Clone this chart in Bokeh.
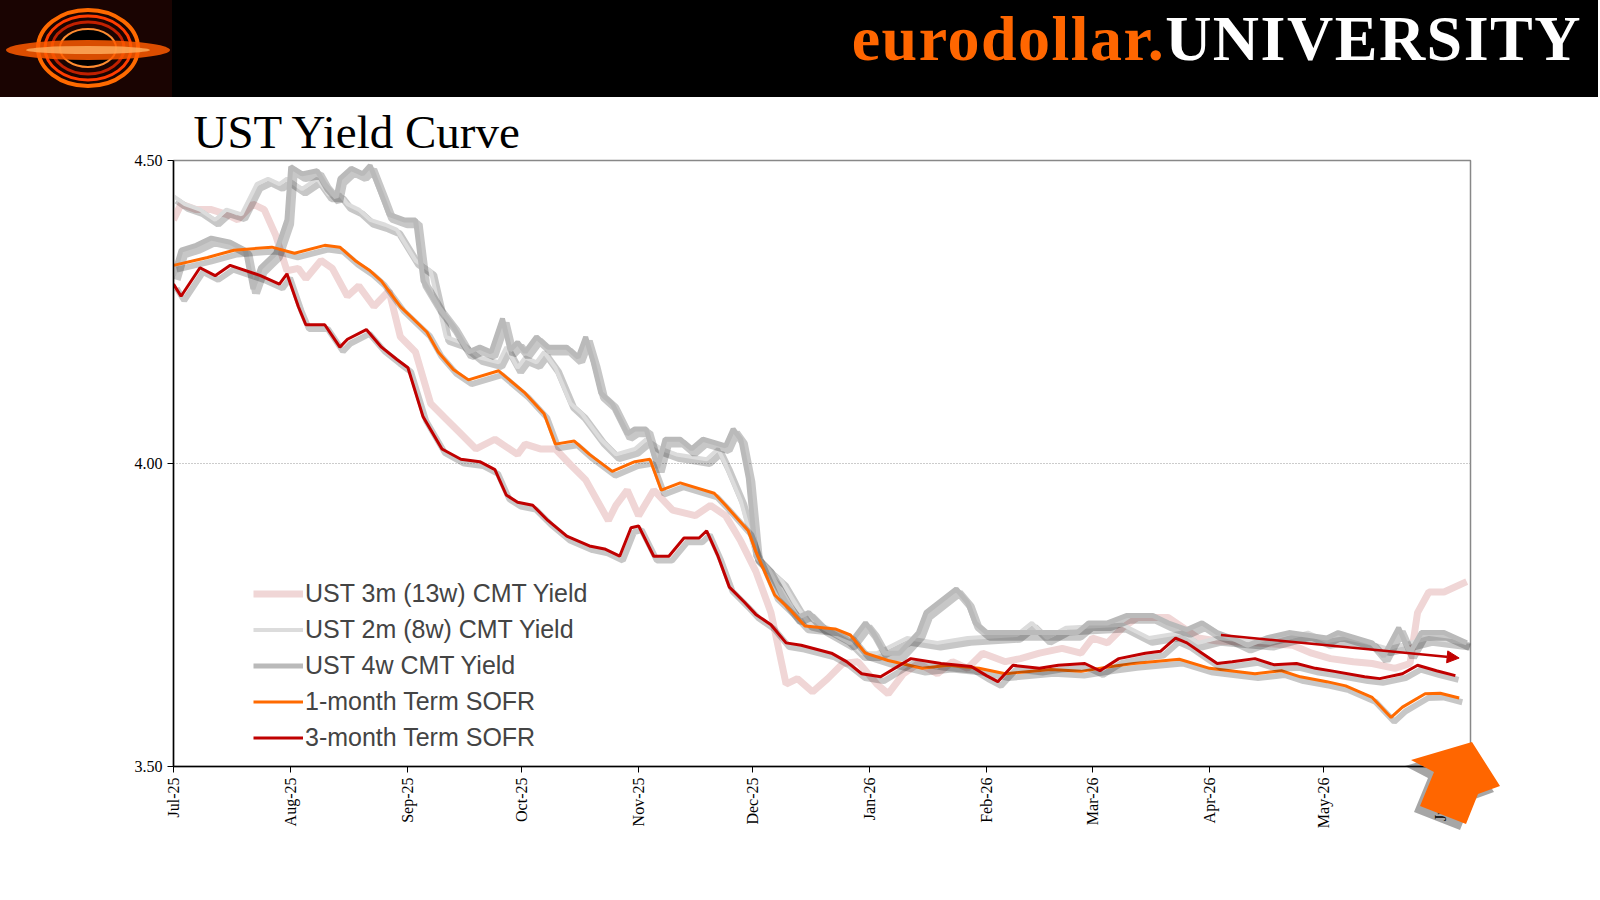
import pandas as pd
from bokeh.plotting import figure
from bokeh.layouts import column
from bokeh.models import (Range1d, FixedTicker, DatetimeTickFormatter, NumeralTickFormatter,
                          Legend, LegendItem, Arrow, NormalHead, ColumnDataSource, Div)
from bokeh.embed import file_html
from bokeh.resources import INLINE

# ---------------- data ----------------
sofr1m_dates = ["2025-07-01","2025-07-10","2025-07-17","2025-07-27","2025-08-02","2025-08-10","2025-08-14","2025-08-18",
    "2025-08-22","2025-08-25","2025-08-30","2025-09-06","2025-09-09","2025-09-13","2025-09-17","2025-09-25","2025-10-02",
    "2025-10-07","2025-10-10","2025-10-15","2025-10-19","2025-10-25","2025-10-31","2025-11-04","2025-11-07","2025-11-12",
    "2025-11-21","2025-11-24","2025-11-30","2025-12-02","2025-12-07","2025-12-11","2025-12-15","2025-12-23","2025-12-27",
    "2025-12-31","2026-01-06","2026-01-15","2026-01-22","2026-01-30","2026-02-06","2026-02-18","2026-02-26","2026-03-06",
    "2026-03-12","2026-03-24","2026-04-01","2026-04-13","2026-04-20","2026-04-25","2026-05-02","2026-05-07","2026-05-14",
    "2026-05-19","2026-05-22","2026-05-28","2026-06-01","2026-06-06"]
sofr1m = [4.327,4.340,4.352,4.357,4.347,4.360,4.357,4.335,4.318,4.301,4.259,4.217,4.184,4.155,4.138,4.153,4.116,
    4.082,4.032,4.037,4.015,3.987,4.003,4.007,3.956,3.968,3.951,3.931,3.889,3.855,3.783,3.759,3.732,3.727,3.717,
    3.687,3.675,3.662,3.667,3.662,3.653,3.660,3.657,3.665,3.670,3.677,3.662,3.653,3.658,3.648,3.640,3.633,3.614,
    3.581,3.598,3.620,3.621,3.613]

sofr3m_dates = ["2025-07-01","2025-07-03","2025-07-08","2025-07-12","2025-07-16","2025-07-24","2025-07-29","2025-07-31",
    "2025-08-03","2025-08-05","2025-08-10","2025-08-14","2025-08-16","2025-08-21","2025-08-25","2025-08-29","2025-09-01",
    "2025-09-05","2025-09-10","2025-09-15","2025-09-20","2025-09-24","2025-09-27","2025-09-30","2025-10-04","2025-10-08",
    "2025-10-13","2025-10-19","2025-10-23","2025-10-27","2025-10-30","2025-11-01","2025-11-05","2025-11-09","2025-11-13",
    "2025-11-17","2025-11-19","2025-11-22","2025-11-25","2025-11-29","2025-12-02","2025-12-06","2025-12-10","2025-12-14",
    "2025-12-22","2025-12-26","2025-12-30","2026-01-04","2026-01-12","2026-01-20","2026-01-28","2026-02-01","2026-02-04",
    "2026-02-08","2026-02-15","2026-02-20","2026-02-27","2026-03-03","2026-03-08","2026-03-15","2026-03-19","2026-03-23",
    "2026-03-26","2026-03-30","2026-04-03","2026-04-07","2026-04-13","2026-04-18","2026-04-24","2026-04-29","2026-05-04",
    "2026-05-12","2026-05-16","2026-05-22","2026-05-26","2026-05-31","2026-06-05"]
sofr3m = [4.296,4.276,4.323,4.310,4.327,4.310,4.296,4.313,4.259,4.229,4.229,4.192,4.205,4.221,4.192,4.172,4.158,
    4.077,4.024,4.007,4.003,3.990,3.948,3.936,3.931,3.906,3.880,3.864,3.859,3.847,3.894,3.897,3.847,3.847,3.877,
    3.877,3.889,3.847,3.796,3.771,3.751,3.734,3.704,3.700,3.687,3.673,3.653,3.648,3.678,3.670,3.665,3.650,3.640,
    3.667,3.662,3.667,3.670,3.658,3.678,3.687,3.690,3.712,3.704,3.687,3.670,3.673,3.678,3.668,3.670,3.662,3.657,
    3.648,3.645,3.653,3.667,3.658,3.650]

ust4w_dates = ["2025-07-01","2025-07-03","2025-07-07","2025-07-11","2025-07-16","2025-07-20","2025-07-22","2025-07-24",
    "2025-07-28","2025-07-31","2025-08-01","2025-08-04","2025-08-08","2025-08-10","2025-08-13","2025-08-14","2025-08-17",
    "2025-08-20","2025-08-22","2025-08-25","2025-08-27","2025-08-31","2025-09-03","2025-09-05","2025-09-09","2025-09-13",
    "2025-09-17","2025-09-20","2025-09-23","2025-09-26","2025-09-28","2025-09-30","2025-10-02","2025-10-05","2025-10-08",
    "2025-10-13","2025-10-16","2025-10-18","2025-10-20","2025-10-22","2025-10-25","2025-10-29","2025-10-31","2025-11-03",
    "2025-11-06","2025-11-08","2025-11-12","2025-11-15","2025-11-18","2025-11-24","2025-11-26","2025-11-28","2025-11-30",
    "2025-12-02","2025-12-05","2025-12-10","2025-12-13","2025-12-16","2025-12-20","2025-12-27","2025-12-31","2026-01-02",
    "2026-01-05","2026-01-09","2026-01-14","2026-01-16","2026-01-24","2026-01-27","2026-01-29","2026-02-01","2026-02-25",
    "2026-02-28","2026-03-05","2026-03-10","2026-03-17","2026-03-21","2026-03-26","2026-03-30","2026-04-03","2026-04-07",
    "2026-04-11","2026-04-16","2026-04-22","2026-05-02","2026-05-05","2026-05-14","2026-05-17","2026-05-21","2026-05-24",
    "2026-05-27","2026-06-02","2026-06-08"]
ust4w = [4.310,4.352,4.360,4.372,4.365,4.352,4.288,4.323,4.347,4.402,4.490,4.478,4.483,4.461,4.439,4.470,4.487,
    4.478,4.492,4.444,4.411,4.402,4.402,4.301,4.259,4.226,4.184,4.192,4.184,4.239,4.187,4.200,4.184,4.209,4.192,
    4.192,4.175,4.209,4.167,4.116,4.099,4.049,4.057,4.057,3.993,4.040,4.040,4.024,4.040,4.029,4.057,4.040,3.976,
    3.847,3.828,3.771,3.746,3.754,3.729,3.704,3.737,3.721,3.687,3.687,3.721,3.754,3.793,3.771,3.737,3.721,3.721,
    3.737,3.737,3.749,3.749,3.737,3.726,3.737,3.721,3.712,3.700,3.712,3.721,3.712,3.721,3.704,3.682,3.729,3.687,
    3.721,3.721,3.704]

ust2m_dates = ["2025-07-01","2025-07-04","2025-07-08","2025-07-12","2025-07-15","2025-07-19","2025-07-23","2025-07-26",
    "2025-07-29","2025-07-31","2025-08-04","2025-08-08","2025-08-11","2025-08-14","2025-08-16","2025-08-19","2025-08-22",
    "2025-08-26","2025-08-29","2025-09-03","2025-09-07","2025-09-11","2025-09-15","2025-09-20","2025-09-25","2025-09-27",
    "2025-09-30","2025-10-02","2025-10-05","2025-10-07","2025-10-10","2025-10-14","2025-10-17","2025-10-22","2025-10-26",
    "2025-10-31","2025-11-03","2025-11-07","2025-11-11","2025-11-19","2025-11-22","2025-11-24","2025-11-28","2025-12-02",
    "2025-12-06","2025-12-09","2025-12-13","2025-12-16","2025-12-21","2025-12-26","2025-12-30","2026-01-03","2026-01-11",
    "2026-01-19","2026-01-27","2026-02-09","2026-02-13","2026-02-17","2026-02-22","2026-03-09","2026-03-16","2026-03-25",
    "2026-03-29","2026-04-03","2026-04-17","2026-04-27","2026-05-02","2026-05-07","2026-05-13","2026-05-18","2026-05-24",
    "2026-05-29","2026-06-08"]
ust2m = [4.441,4.428,4.419,4.402,4.419,4.411,4.461,4.470,4.461,4.470,4.453,4.470,4.444,4.444,4.428,4.419,4.402,
    4.394,4.386,4.335,4.318,4.209,4.200,4.175,4.167,4.192,4.158,4.175,4.167,4.184,4.158,4.099,4.082,4.040,4.015,
    4.024,4.040,4.024,4.015,4.007,4.024,3.998,3.939,3.847,3.822,3.805,3.763,3.737,3.729,3.712,3.687,3.687,3.712,
    3.704,3.712,3.717,3.737,3.712,3.729,3.734,3.712,3.721,3.704,3.712,3.704,3.721,3.707,3.712,3.704,3.695,3.704,
    3.712,3.704]

ust3m_dates = ["2025-07-01","2025-07-03","2025-07-07","2025-07-11","2025-07-15","2025-07-18","2025-07-22","2025-07-25",
    "2025-07-28","2025-07-31","2025-08-03","2025-08-05","2025-08-09","2025-08-12","2025-08-16","2025-08-19","2025-08-23",
    "2025-08-27","2025-08-30","2025-09-03","2025-09-07","2025-09-11","2025-09-15","2025-09-19","2025-09-24","2025-09-30",
    "2025-10-02","2025-10-06","2025-10-10","2025-10-14","2025-10-18","2025-10-24","2025-10-26","2025-10-29","2025-11-01",
    "2025-11-05","2025-11-10","2025-11-16","2025-11-20","2025-11-24","2025-11-28","2025-12-02","2025-12-06","2025-12-10",
    "2025-12-13","2025-12-17","2025-12-21","2025-12-25","2025-12-29","2026-01-03","2026-01-06","2026-01-10","2026-01-14",
    "2026-01-19","2026-01-23","2026-01-27","2026-01-31","2026-02-06","2026-02-10","2026-02-15","2026-02-21","2026-02-26",
    "2026-03-01","2026-03-05","2026-03-09","2026-03-13","2026-03-21","2026-03-25","2026-03-29","2026-04-03","2026-04-13",
    "2026-04-23","2026-04-28","2026-05-03","2026-05-09","2026-05-14","2026-05-20","2026-05-24","2026-05-26","2026-05-29",
    "2026-06-02","2026-06-08"]
ust3m = [4.402,4.428,4.419,4.419,4.411,4.402,4.428,4.419,4.377,4.318,4.322,4.305,4.335,4.322,4.276,4.293,4.259,
    4.285,4.209,4.184,4.099,4.074,4.049,4.024,4.040,4.015,4.032,4.024,4.024,3.998,3.973,3.906,3.931,3.956,3.914,
    3.956,3.923,3.914,3.931,3.914,3.872,3.822,3.754,3.636,3.645,3.623,3.645,3.670,3.673,3.636,3.620,3.653,3.670,
    3.653,3.673,3.662,3.687,3.673,3.678,3.687,3.695,3.687,3.712,3.704,3.729,3.746,3.746,3.729,3.712,3.707,3.704,
    3.700,3.687,3.678,3.673,3.670,3.662,3.670,3.754,3.788,3.788,3.805]

month_ticks = ["2025-07-01","2025-08-01","2025-09-01","2025-10-01","2025-11-01","2025-12-01","2026-01-01",
               "2026-02-01","2026-03-01","2026-04-01","2026-05-01","2026-06-01"]
y_ticks = [3.50, 4.00, 4.50]
x_start, x_end = "2025-07-01", "2026-06-09"
trend_start, trend_end = ("2026-04-04", 3.717), ("2026-06-06", 3.679)

def ms(d):
    return pd.Timestamp(d).value / 1e6

W = 1598
SERIF = "Liberation Serif"

# ---------------- header (HTML) ----------------
logo_svg = (
    '<svg width="172" height="97" style="position:absolute;left:0;top:0" xmlns="http://www.w3.org/2000/svg">'
    '<rect width="172" height="97" fill="#1a0402"/>'
    '<ellipse cx="88" cy="48" rx="50" ry="38" fill="none" stroke="#ff6a00" stroke-width="4"/>'
    '<ellipse cx="88" cy="48" rx="43" ry="32" fill="none" stroke="#ff3d00" stroke-width="3"/>'
    '<ellipse cx="88" cy="48" rx="36" ry="26" fill="none" stroke="#c02000" stroke-width="3"/>'
    '<ellipse cx="88" cy="48" rx="28" ry="19" fill="black" stroke="#ff8c30" stroke-width="2"/>'
    '<ellipse cx="88" cy="50" rx="82" ry="10" fill="#ff5a00" fill-opacity="0.85"/>'
    '<ellipse cx="88" cy="50" rx="62" ry="4" fill="#ffb060" fill-opacity="0.8"/>'
    '</svg>')
header_html = (
    '<div style="width:%dpx;height:97px;background:black;position:relative;overflow:hidden">' % W
    + logo_svg +
    '<div style="position:absolute;right:16px;top:4px;font-family:\'Liberation Serif\';font-weight:bold;'
    'font-size:64px;line-height:70px;letter-spacing:1.5px;white-space:nowrap">'
    '<span style="color:#ff6600">eurodollar.</span><span style="color:white">UNIVERSITY</span></div></div>')
hdr = Div(text=header_html, width=W, height=97, margin=0)

# ---------------- main chart ----------------
p = figure(width=W, height=795, x_axis_type="datetime",
           x_range=Range1d(ms(x_start), ms(x_end)), y_range=Range1d(3.5, 4.5),
           output_backend="svg", toolbar_location=None,
           min_border_left=173, min_border_right=128, min_border_top=63, min_border_bottom=126,
           title="UST Yield Curve")
p.margin = 0
p.title.text_font = SERIF
p.title.text_font_size = "47px"
p.title.text_font_style = "normal"
p.title.text_color = "black"
p.title.offset = 20
p.title.standoff = 6
p.outline_line_color = "#888888"
p.outline_line_width = 1.5

series = [
    ("UST 3m (13w) CMT Yield", ust3m_dates, ust3m, "#f0d6d6", 7),
    ("UST 2m (8w) CMT Yield", ust2m_dates, ust2m, "#dcdcdc", 4),
    ("UST 4w CMT Yield", ust4w_dates, ust4w, "#bababa", 5),
    ("1-month Term SOFR", sofr1m_dates, sofr1m, "#ff6a00", 3),
    ("3-month Term SOFR", sofr3m_dates, sofr3m, "#c00000", 3),
]
items = []
for name, d, v, col, lw in series:
    src = ColumnDataSource(dict(x=pd.to_datetime(d), y=v))
    if lw != 7:
        sh = ColumnDataSource(dict(x=pd.to_datetime(d) + pd.Timedelta(hours=20), y=[vv - 0.007 for vv in v]))
        p.line("x", "y", source=sh, line_color="black", line_alpha=0.22, line_width=lw + 3)
    r = p.line("x", "y", source=src, line_color=col, line_width=lw)
    items.append(LegendItem(label=name, renderers=[r]))

legend = Legend(items=items, location=(80, 12), background_fill_alpha=0, border_line_color=None,
                label_text_font="Liberation Sans", label_text_font_size="25px", label_height=33,
                glyph_width=50, glyph_height=33, spacing=3, padding=0, label_standoff=2)
p.add_layout(legend, "center")

p.xaxis.ticker = FixedTicker(ticks=[ms(t) for t in month_ticks])
fmt = "%b-%y"
p.xaxis.formatter = DatetimeTickFormatter(days=fmt, months=fmt, years=fmt, hours=fmt, minutes=fmt)
p.xaxis.major_label_orientation = 1.5708
p.yaxis.ticker = FixedTicker(ticks=y_ticks)
p.yaxis.formatter = NumeralTickFormatter(format="0.00")
for ax in (p.xaxis, p.yaxis):
    ax.major_label_text_font = SERIF
    ax.major_label_text_font_size = "16px"
    ax.major_label_text_color = "black"
    ax.axis_line_color = "black"
    ax.axis_line_width = 1.5
    ax.major_tick_out = 6
    ax.major_tick_in = 0
    ax.minor_tick_out = 0
    ax.minor_tick_in = 0
p.xgrid.visible = False
p.ygrid.ticker = FixedTicker(ticks=[4.0])
p.ygrid.grid_line_color = "#999999"
p.ygrid.grid_line_dash = "1 2"

p.add_layout(Arrow(end=NormalHead(size=12, fill_color="#c00000", line_color="#c00000"),
                   x_start=ms(trend_start[0]), y_start=trend_start[1],
                   x_end=ms(trend_end[0]), y_end=trend_end[1],
                   line_color="#c00000", line_width=2.5))

# big orange callout arrow, overlaid via an HTML div pulled up over the chart corner
arrow_svg = (
    '<svg width="110" height="100" xmlns="http://www.w3.org/2000/svg">'
    '<polygon points="66,13 5,31 28,43 14,77 60,95 72,65 94,57" fill="black" fill-opacity="0.35"/>'
    '<polygon points="72,7 11,25 34,37 20,71 66,89 78,59 100,51" fill="#ff6600"/>'
    '</svg>')
arrow_div = Div(text=arrow_svg, width=110, height=100, margin=(735 - 97 - 795, 0, 0, 1400))

lay = column(hdr, p, arrow_div, spacing=0)
open("out.html", "w").write(file_html(lay, INLINE))
